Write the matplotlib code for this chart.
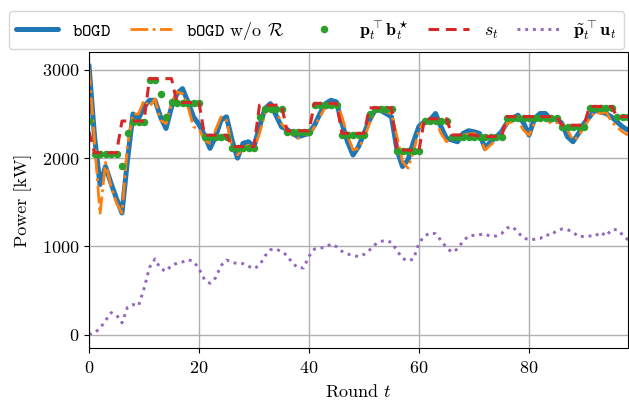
import numpy as np
import matplotlib
matplotlib.use("Agg")
import matplotlib.pyplot as plt

plt.rcParams.update({
    "font.family": "serif",
    "font.serif": ["cmr10", "DejaVu Serif"],
    "mathtext.fontset": "cm",
    "axes.formatter.use_mathtext": True,
    "font.size": 13,
    "axes.unicode_minus": False,
})

rounds = np.arange(99)

bogd = [3050, 2250, 1700, 1904, 1716, 1540, 1378, 1979, 2500, 2448,
        2580, 2655, 2655, 2467, 2335, 2577, 2730, 2787, 2636, 2467,
        2380, 2260, 2110, 2242, 2430, 2467, 2204, 2000, 2167, 2185,
        2129, 2354, 2561, 2617, 2486, 2354, 2325, 2279, 2242, 2260,
        2280, 2373, 2505, 2617, 2655, 2636, 2392, 2185, 2035, 2129,
        2279, 2430, 2542, 2542, 2505, 2467, 2092, 1904, 1979, 2185,
        2360, 2411, 2430, 2505, 2354, 2223, 2204, 2185, 2279, 2310,
        2298, 2279, 2110, 2185, 2235, 2298, 2400, 2450, 2486, 2400,
        2260, 2448, 2505, 2505, 2430, 2448, 2392, 2242, 2185, 2279,
        2392, 2467, 2542, 2523, 2505, 2467, 2411, 2354, 2317]

bogd_noR = [3020, 2200, 1360, 1950, 1680, 1490, 1380, 2150, 2500, 2500,
            2655, 2580, 2670, 2430, 2390, 2617, 2750, 2730, 2580, 2354,
            2330, 2204, 2167, 2317, 2467, 2430, 2129, 2035, 2110, 2148,
            2110, 2279, 2505, 2580, 2542, 2392, 2317, 2260, 2223, 2279,
            2260, 2354, 2467, 2580, 2617, 2617, 2467, 2260, 2092, 2110,
            2223, 2392, 2523, 2561, 2523, 2505, 2242, 1960, 1885, 2073,
            2317, 2430, 2411, 2430, 2279, 2185, 2223, 2242, 2260, 2270,
            2279, 2242, 2092, 2148, 2204, 2279, 2392, 2411, 2430, 2317,
            2260, 2392, 2467, 2448, 2392, 2400, 2400, 2317, 2204, 2242,
            2354, 2448, 2523, 2505, 2523, 2411, 2354, 2298, 2260]

opt_b = ([2420] + [2043] * 5 + [1910, 2280, 2404, 2404, 2404]
         + [2880, 2880, 2722, 2460, 2636] + [2620] * 5
         + [2235] * 5 + [2110] * 5 + [2460, 2560, 2560, 2560, 2560]
         + [2300] * 5 + [2605] * 5 + [2260] * 5 + [2500, 2555, 2555, 2555, 2555]
         + [2078] * 5 + [2420] * 5 + [2242] * 10 + [2456] * 10
         + [2354] * 5 + [2567] * 5 + [2460] * 3)

s_t = ([2300] + [2060] * 5 + [2420] * 5 + [2900] * 5 + [2630] * 5
       + [2260] * 5 + [2130] * 5 + [2600] * 5 + [2310] * 5 + [2620] * 5
       + [2280] * 5 + [2570] * 5 + [2090] * 5 + [2445] * 5 + [2262] * 5
       + [2245] * 5 + [2470] * 10 + [2372] * 5 + [2585] * 5 + [2470] * 3)

pu = [0, 19, 72, 158, 249, 223, 132, 310, 340, 325,
      521, 762, 857, 747, 717, 785, 808, 823, 849, 830,
      747, 623, 581, 642, 781, 845, 819, 804, 804, 774,
      747, 785, 891, 962, 970, 940, 898, 808, 758, 755,
      887, 970, 981, 989, 1026, 996, 943, 913, 898, 883,
      909, 958, 1019, 1057, 1064, 1045, 951, 864, 834, 857,
      1038, 1117, 1151, 1143, 1068, 985, 932, 970, 1057, 1117,
      1125, 1132, 1140, 1113, 1117, 1143, 1208, 1223, 1158, 1094,
      1075, 1079, 1087, 1132, 1125, 1177, 1196, 1189, 1162, 1109,
      1113, 1117, 1113, 1162, 1117, 1189, 1189, 1132, 1072]

fig = plt.figure(figsize=(6.29, 4.08), dpi=100)
ax = fig.add_axes([89 / 629, (408 - 348) / 408, (628 - 89) / 629, (348 - 52) / 408])

l1, = ax.plot(rounds, bogd, color="#1f77b4", lw=3.6, solid_capstyle="round",
              label=r"$\mathtt{bOGD}$")
l2, = ax.plot(rounds, bogd_noR, color="#ff7f0e", lw=2.0, ls="-.",
              label=r"$\mathtt{bOGD}$ w/o $\mathcal{R}$")
l3, = ax.plot(rounds, opt_b, color="#2ca02c", ls="none", marker="o", ms=4.4,
              label=r"$\mathbf{p}_t^\top\mathbf{b}_t^\star$")
l4, = ax.plot(rounds, s_t, color="#d62728", lw=2.2, ls=(0, (3.5, 2.2)),
              label=r"$s_t$")
l5, = ax.plot(rounds, pu, color="#9467bd", lw=2.1, ls=":",
              label=r"$\tilde{\mathbf{p}}_t^\top\mathbf{u}_t$")

ax.set_xlim(0, 98)
ax.set_ylim(-152, 3202)
ax.set_xticks([0, 20, 40, 60, 80])
ax.set_yticks([0, 1000, 2000, 3000])
ax.tick_params(axis="x", pad=5)
ax.grid(True, color="#b0b0b0", lw=1.0)
ax.set_axisbelow(True)
ax.set_xlabel(r"Round $t$", labelpad=5)
ax.set_ylabel("Power [kW]", labelpad=7)

fig.legend(handles=[l1, l2, l3, l4, l5], loc="upper center",
           bbox_to_anchor=(0.503, 0.995), ncol=5, frameon=True,
           handlelength=2.3, columnspacing=1.05, handletextpad=0.8,
           borderpad=0.4, fancybox=True, edgecolor="#cccccc")

fig.savefig("out.png", dpi=100)
